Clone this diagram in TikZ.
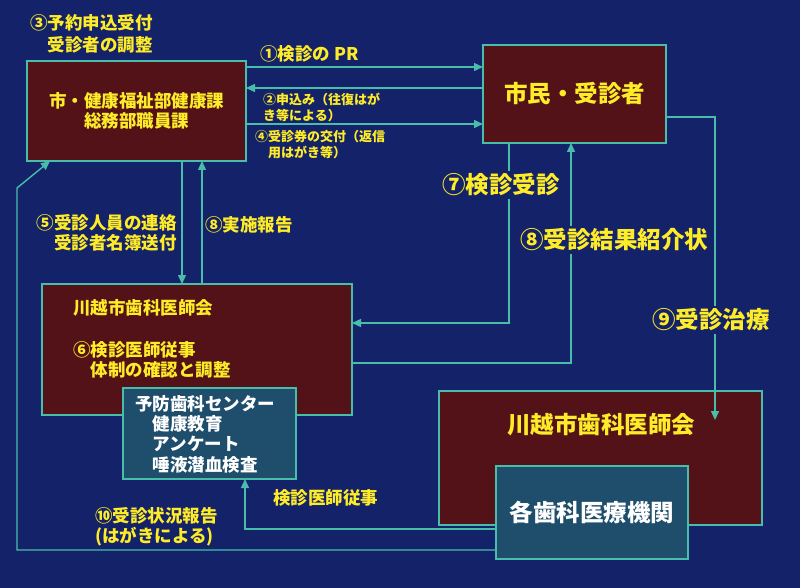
\documentclass[tikz,border=0pt]{standalone}
\usepackage{fontspec}
\setmainfont{Noto Sans CJK JP}
\usetikzlibrary{arrows.meta}
\definecolor{slidebg}{RGB}{20,34,105}
\definecolor{boxred}{RGB}{82,18,24}
\definecolor{boxteal}{RGB}{30,78,108}
\definecolor{linecol}{RGB}{72,190,170}
\definecolor{txtyellow}{RGB}{255,236,40}
\newcommand\smallfs{\fontsize{13}{16}\selectfont\bfseries}
\newcommand\midfs{\fontsize{17.5}{20.3}\selectfont\bfseries}
\newcommand\bigfs{\fontsize{23.5}{28}\selectfont\bfseries}

\begin{document}
\begin{tikzpicture}[x=1pt, y=-1pt,
  redbox/.style={draw=linecol, fill=boxred, line width=1.4pt, inner sep=0pt, outer sep=0pt, anchor=north west},
  tealbox/.style={draw=linecol, fill=boxteal, line width=1.4pt, inner sep=0pt, outer sep=0pt, anchor=north west},
  conn/.style={draw=linecol, line width=1.4pt, -{Triangle[length=9pt, width=8pt]}},
  ylw/.style={text=txtyellow, inner sep=0pt},
  wht/.style={text=white, inner sep=0pt},
  gap/.style={fill=slidebg, inner sep=3pt}]
  \path[use as bounding box, fill=slidebg] (0,0) rectangle (800,588);

  \node[redbox, minimum width=219pt, minimum height=100pt, text=txtyellow, font=\midfs, align=center] (gov) at (27,61) {市・健康福祉部健康課\\総務部職員課};
  \node[redbox, minimum width=183pt, minimum height=98pt, text=txtyellow, font=\bigfs] (citizen) at (483,45) {市民・受診者};
  \node[redbox, minimum width=310pt, minimum height=131pt] (assoc) at (42,284) {};
  \node[tealbox, minimum width=173pt, minimum height=91pt] (center) at (123,388) {};
  \node[redbox, minimum width=323pt, minimum height=134pt] (assocR) at (439,391) {};
  \node[tealbox, minimum width=192pt, minimum height=93pt, text=white, font=\bigfs] (clinics) at (496,466) {各歯科医療機関};

  \node[ylw, font=\midfs, anchor=west] (assocname) at (73,308) {川越市歯科医師会};
  \node[ylw, font=\midfs, anchor=north west, align=left] (assocduty) at (73,341) {⑥検診医師従事\\\hspace*{1em}体制の確認と調整};
  \node[wht, font=\midfs, anchor=north west, align=left] (centertxt) at (135,395) {予防歯科センター\\\hspace*{1em}健康教育\\\hspace*{1em}アンケート\\\hspace*{1em}唾液潜血検査};
  \node[ylw, font=\bigfs] (assocRname) at (601,425) {川越市歯科医師会};

  \coordinate (bend) at (17,188);
  \draw[conn] ([yshift=-6pt]gov.north east) -- ([yshift=-22pt]citizen.north west);
  \draw[conn] ([yshift=-43pt]citizen.north west) -- ([yshift=-27pt]gov.north east);
  \draw[conn] ([yshift=-63pt]gov.north east) -- ([yshift=-79pt]citizen.north west);
  \draw[conn] ([xshift=155pt]gov.south west) -- ([xshift=140pt]assoc.north west);
  \draw[conn] ([xshift=160pt]assoc.north west) -- ([xshift=175pt]gov.south west);
  \draw[conn] ([xshift=26pt]citizen.south west) |- ([yshift=-39pt]assoc.north east);
  \draw[conn] ([yshift=-79pt]assoc.north east) -| ([xshift=88pt]citizen.south west);
  \draw[conn] ([yshift=-72pt]citizen.north east) -| ([xshift=276pt,yshift=-29pt]assocR.north west);
  \draw[conn] ([yshift=-63pt]clinics.north west) -| ([xshift=122pt]center.south west);
  \draw[conn] ([yshift=-84pt]clinics.north west) -| (bend) -- ([xshift=23pt]gov.south west);

  \node[ylw, font=\midfs, anchor=north east, align=right] (reserve) at (153,14) {③予約申込受付\\[1.7pt]受診者の調整};
  \node[ylw, font=\midfs, anchor=west] (pr) at (260,54) {①検診の PR};
  \node[ylw, font=\smallfs, anchor=north west, align=left] (apply) at (263,92.5) {②申込み（往復はが\\き等による）};
  \node[ylw, font=\smallfs, anchor=north west, align=left] (ticket) at (255,130.5) {④受診券の交付（返信\\\hspace*{1em}用はがき等）};
  \node[ylw, font=\midfs, anchor=north east, align=right] (notify) at (177,214) {⑤受診人員の連絡\\受診者名簿送付};
  \node[ylw, font=\midfs, anchor=west] (report) at (205,225) {⑧実施報告};
  \node[ylw, gap, font=\bigfs, anchor=west] (exam) at (439,185) {⑦検診受診};
  \node[ylw, gap, font=\bigfs, anchor=west] (result) at (517,240) {⑧受診結果紹介状};
  \node[ylw, gap, font=\bigfs, anchor=west] (treat) at (649,320) {⑨受診治療};
  \node[ylw, font=\midfs, anchor=west] (duty) at (273,498) {検診医師従事};
  \node[ylw, font=\midfs, anchor=north west, align=left] (status) at (95,507) {⑩受診状況報告\\(はがきによる)};
\end{tikzpicture}
\end{document}
